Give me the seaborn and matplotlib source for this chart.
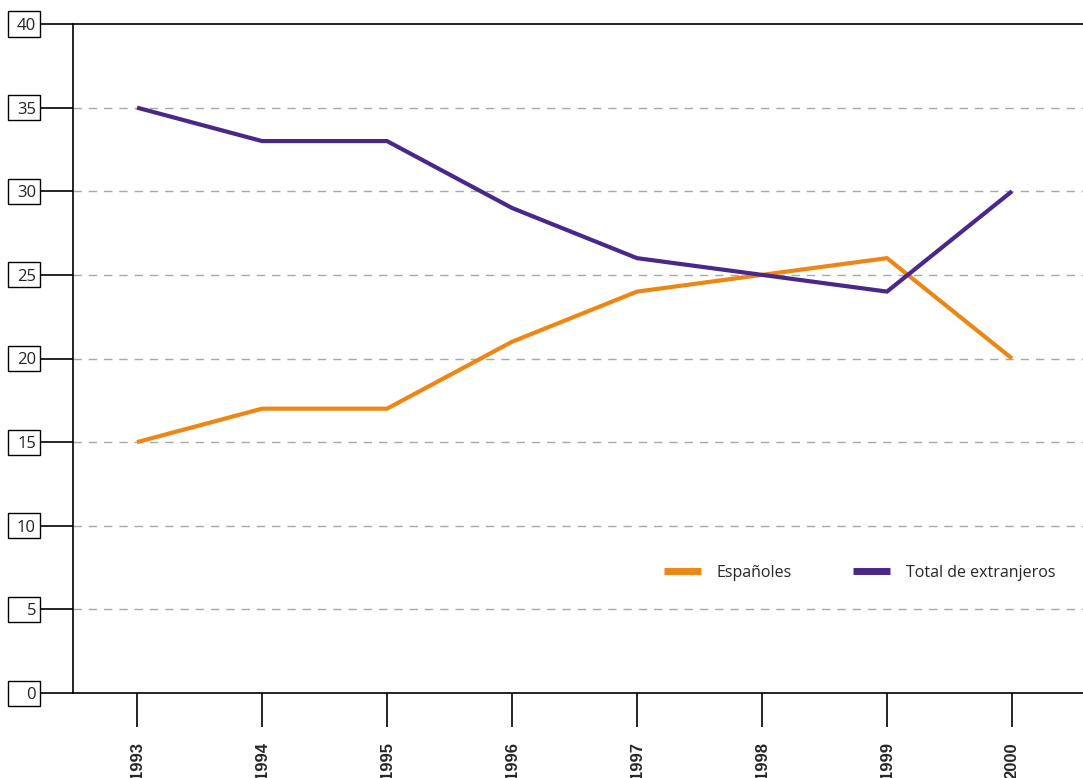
import matplotlib
matplotlib.use("Agg")
import matplotlib.pyplot as plt
from matplotlib.patches import Rectangle
import seaborn as sns
import pandas as pd

years = [1993, 1994, 1995, 1996, 1997, 1998, 1999, 2000]
espanoles = [15, 17, 17, 21, 24, 25, 26, 20]
extranjeros = [35, 33, 33, 29, 26, 25, 24, 30]
series_names = ["Españoles", "Total de extranjeros"]
series_colors = ["#EE8614", "#4A2889"]
y_ticks = [0, 5, 10, 15, 20, 25, 30, 35, 40]

sns.set_theme(style="white")
plt.rcParams["font.family"] = ["Open Sans", "DejaVu Sans"]

df = pd.DataFrame({
    "year": years * 2,
    "value": espanoles + extranjeros,
    "serie": [series_names[0]] * len(years) + [series_names[1]] * len(years),
})

W, H = 1083, 778
fig = plt.figure(figsize=(W / 100, H / 100), dpi=100)
ax = fig.add_axes([73 / W, (H - 693) / H, (W - 73) / W, (693 - 24) / H])

sns.lineplot(data=df, x="year", y="value", hue="serie",
             palette=dict(zip(series_names, series_colors)),
             linewidth=3.0, ax=ax, legend=True)
for line in ax.get_lines():
    line.set_solid_capstyle("butt")
    line.set_solid_joinstyle("miter")

ax.set_xlim(1992.488, 2000.568)
ax.set_ylim(0, 40)
ax.set_xlabel("")
ax.set_ylabel("")

# spines
for side in ["left", "top", "bottom"]:
    ax.spines[side].set_visible(True)
    ax.spines[side].set_color("black")
    ax.spines[side].set_linewidth(1.2)
ax.spines["right"].set_visible(False)

# horizontal dashed grid
for v in y_ticks[1:-1]:
    ax.axhline(v, color="#a8a8a8", linewidth=1.0, linestyle=(0, (6, 5)), zorder=0)

# y ticks as outward lines reaching the boxed labels
ax.set_yticks(y_ticks)
ax.tick_params(axis="y", direction="out", length=33 * 0.72, width=1.2,
               color="black", labelleft=False, left=True)

# x ticks with rotated bold year labels
ax.set_xticks(years)
ax.set_xticklabels([str(y) for y in years], rotation=90, fontweight="bold",
                   fontsize=12, va="top", ha="center",
                   family=["Liberation Sans", "DejaVu Sans"])
ax.tick_params(axis="x", direction="out", length=34 * 0.72, width=1.2,
               color="black", pad=11, bottom=True)

# boxed y labels
y0_px, px_per = 693, (693 - 24) / 40
for v in y_ticks:
    yc = H - (y0_px - v * px_per)
    fig.patches.append(Rectangle((8 / W, (yc - 12.5) / H), 32 / W, 25 / H,
                                 transform=fig.transFigure, fill=False,
                                 edgecolor="black", linewidth=1.0))
    fig.text(36 / W, yc / H, str(v), ha="right", va="center_baseline",
             fontsize=12, color="#222222")

# legend
handles, labels = ax.get_legend_handles_labels()
leg = ax.legend(handles, labels, ncol=2, frameon=False, loc="center left",
                bbox_to_anchor=(664 / W, (H - 573) / H),
                bbox_transform=fig.transFigure, borderaxespad=0, borderpad=0,
                handlelength=2.3, handletextpad=1.0, columnspacing=3.85,
                fontsize=11.5)
for line in leg.get_lines():
    line.set_linewidth(5)
    line.set_solid_capstyle("butt")

fig.savefig("out.png", dpi=100)
